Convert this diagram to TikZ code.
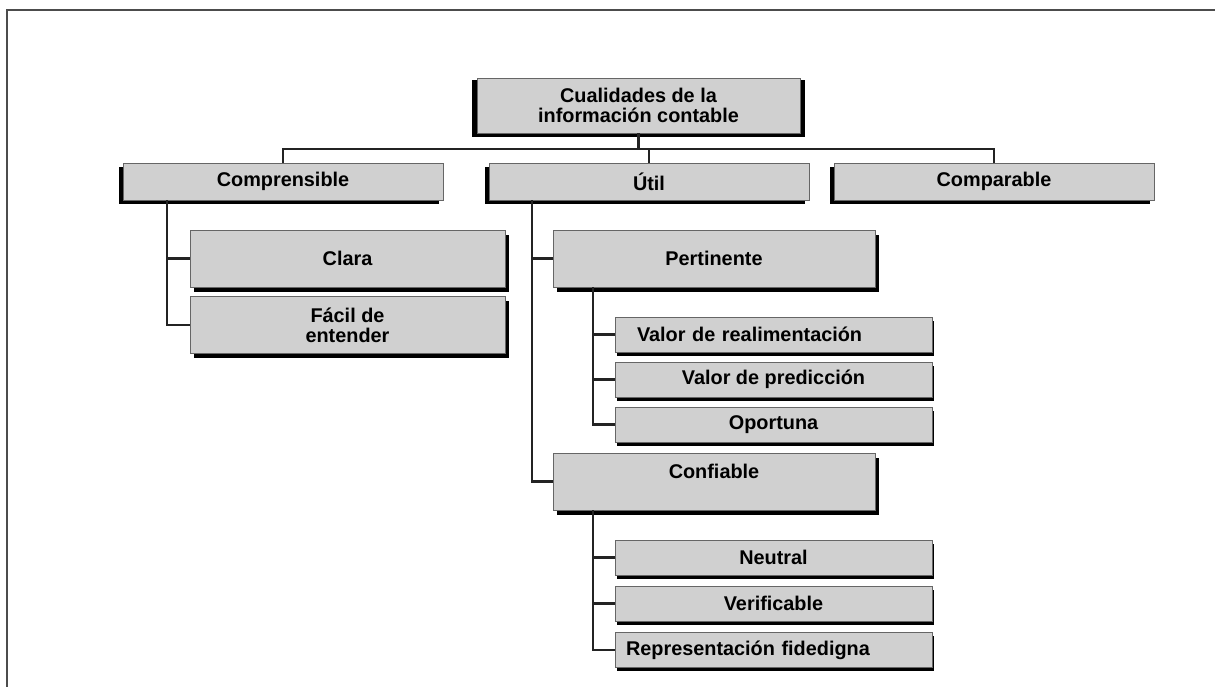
\documentclass[tikz,border=0pt]{standalone}
\usepackage{fontspec}
\setsansfont{Liberation Sans}
\usetikzlibrary{shadows}

\definecolor{boxgray}{RGB}{208,208,208}
\definecolor{wirecol}{RGB}{35,35,35}

\begin{document}
\begin{tikzpicture}[x=0.02cm, y=-0.02cm,
    box/.style={draw=gray!80!black, line width=0.5pt, fill=boxgray, align=center,
        font=\sffamily\bfseries\fontsize{11.3}{11.5}\selectfont, inner sep=1pt},
    topbox/.style={box, minimum width=6.46cm, minimum height=1.1cm,
        drop shadow={shadow xshift=0pt, shadow yshift=-1.8pt, shadow scale=1.03, fill=black, opacity=1}},
    mainbox/.style={box, minimum width=6.4cm, minimum height=0.74cm,
        drop shadow={shadow xshift=-2.3pt, shadow yshift=-2.3pt, fill=black, opacity=1}},
    midbox/.style={box, minimum width=6.3cm, minimum height=1.14cm,
        drop shadow={shadow xshift=2.5pt, shadow yshift=-2.6pt, fill=black, opacity=1}},
    subbox/.style={box, minimum width=6.34cm, minimum height=0.7cm,
        drop shadow={shadow xshift=1.3pt, shadow yshift=-2.2pt, fill=black, opacity=1}},
    wire/.style={draw=wirecol, line width=1.2pt}]

    \useasboundingbox (0,0) rectangle (1215,687);
    \draw[line width=1.3pt, black!70] (1215,10) -- (7,10) -- (7,687);

    \node[topbox] (root) at (638.5,105.5) {Cualidades de la\\información contable};

    \node[mainbox] (compr) at (283,181.5) {Comprensible};
    \node[mainbox] (util) at (649,181.5) {Útil};
    \node[mainbox] (compa) at (994,181.5) {Comparable};

    \node[midbox] (clara) at (347.5,258.5) {Clara};
    \node[midbox] (facil) at (347.5,325) {Fácil de\\entender};
    \node[midbox, minimum width=6.44cm] (pert) at (714,258.5) {Pertinente};
    \node[midbox, minimum width=6.44cm] (conf) at (714,481.5) {Confiable\\ \mbox{}};

    \node[subbox, align=left, text width=5.46cm] (realim) at (773.5,334.5) {Valor de realimentación};
    \node[subbox] (predic) at (773.5,379.5) {Valor de predicción};
    \node[subbox] (oport) at (773.5,424.5) {Oportuna};
    \node[subbox] (neutral) at (773.5,557.5) {Neutral};
    \node[subbox] (verif) at (773.5,603.5) {Verificable};
    \node[subbox, align=left, text width=5.9cm] (repr) at (773.5,650) {Representación fidedigna};

    % top level bus
    \coordinate (bus) at (640,149);
    \draw[wire] (root.south) -- (root.south |- bus);
    \draw[wire] (compr.north) |- (bus) -| (compa.north);
    \draw[wire] (util.north) -- (util.north |- bus);

    \coordinate (comprleg) at ([xshift=0.88cm]compr.south west);
    \coordinate (utilleg) at ([xshift=0.86cm]util.south west);
    \coordinate (pertleg) at ([xshift=0.8cm]pert.south west);
    \coordinate (confleg) at ([xshift=0.8cm]conf.south west);

    \draw[wire] (comprleg) |- (facil.west) (comprleg |- clara.west) -- (clara.west);
    \draw[wire] (utilleg) |- (conf.west) (utilleg |- pert.west) -- (pert.west);
    \draw[wire] (pertleg) |- (oport.west);
    \foreach \n in {realim,predic}
        \draw[wire] (pertleg |- \n.west) -- (\n.west);
    \draw[wire] (confleg) |- (repr.west);
    \foreach \n in {neutral,verif}
        \draw[wire] (confleg |- \n.west) -- (\n.west);
\end{tikzpicture}
\end{document}
